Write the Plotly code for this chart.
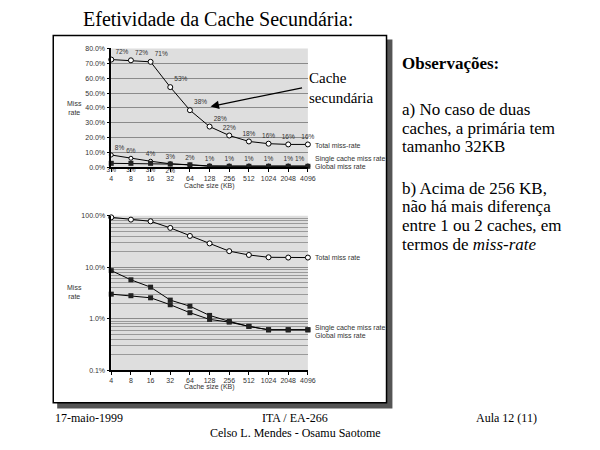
import plotly.graph_objects as go

# ---------------- data ----------------
cache_sizes = ["4", "8", "16", "32", "64", "128", "256", "512", "1024", "2048", "4096"]

top_total = [72.5, 72.0, 71.0, 54.0, 38.5, 27.5, 21.5, 17.5, 16.0, 15.5, 15.5]
top_total_labels = ["72%", "72%", "71%", "53%", "38%", "28%", "22%", "18%", "16%", "16%", "16%"]
top_single = [8.4, 6.2, 4.2, 2.5, 1.6, 1.1, 1.0, 1.0, 1.0, 1.0, 1.0]
top_single_labels = ["8%", "6%", "4%", "3%", "2%", "1%", "1%", "1%", "1%", "1%", "1%"]
top_global = [2.8, 2.8, 2.8, 2.3, 1.8, 0.8, 0.8, 0.8, 0.8, 0.8, 0.8]
top_global_labels = ["3%", "3%", "3%", "2%", "", "", "", "", "", "", ""]

bot_total = [93.0, 84.0, 78.0, 58.0, 40.5, 29.0, 20.5, 17.3, 15.6, 15.4, 15.4]
bot_single = [8.6, 5.7, 4.1, 2.3, 1.75, 1.16, 0.89, 0.71, 0.61, 0.61, 0.61]
bot_global = [3.0, 2.8, 2.55, 1.87, 1.31, 0.97, 0.86, 0.71, 0.61, 0.61, 0.61]

top_yticks = [0, 10, 20, 30, 40, 50, 60, 70, 80]
top_yticktext = ["0.0%", "10.0%", "20.0%", "30.0%", "40.0%", "50.0%", "60.0%", "70.0%", "80.0%"]
bot_yticks = [0.1, 1, 10, 100]
bot_yticktext = ["0.1%", "1.0%", "10.0%", "100.0%"]

title_text = "Efetividade da Cache Secundária:"
obs_title = "Observações:"
obs_lines_a = ["a) No caso de duas", "caches, a primária tem", "tamanho 32KB"]
obs_lines_b = ["b) Acima de 256 KB,", "não há mais diferença", "entre 1 ou 2 caches, em", "termos de <i>miss-rate</i>"]
footer_left = "17-maio-1999"
footer_mid = ["ITA / EA-266", "Celso L. Mendes - Osamu Saotome"]
footer_right = "Aula 12 (11)"

# ---------------- helpers ----------------
# the page body has an 8px margin, so the figure fills the window from (8, 8)
OFF = 8
W, H = 600 - OFF, 450 - OFF
def PX(p):
    return (p - OFF) / W
def PY(p):
    return 1 - (p - OFF) / H

SERIF = "Liberation Serif"
SANS = "Liberation Sans"
small = dict(family=SANS, size=7, color="#333333")
tiny = dict(family=SANS, size=6.5, color="#333333")

fig = go.Figure()

filled_sq = dict(symbol="square", size=5, color="#222222")
line_style = dict(color="black", width=1)
n = len(cache_sizes)
pos_total = ["top right"] * 6 + ["top center"] * (n - 6)
pos_single = ["top right"] + ["top center"] * (n - 2) + ["top left"]

# top chart
fig.add_trace(go.Scatter(x=cache_sizes, y=top_total, mode="lines+markers+text", text=top_total_labels,
                         textposition=pos_total, textfont=tiny, line=line_style,
                         marker=dict(symbol="circle", size=5, color="white", line=dict(width=1, color="black")),
                         cliponaxis=False, xaxis="x", yaxis="y", showlegend=False))
fig.add_trace(go.Scatter(x=cache_sizes, y=top_single, mode="lines+markers+text", text=top_single_labels,
                         textposition=pos_single, textfont=tiny, line=line_style,
                         marker=dict(symbol="circle", size=4, color="white", line=dict(width=1, color="black")),
                         cliponaxis=False, xaxis="x", yaxis="y", showlegend=False))
fig.add_trace(go.Scatter(x=cache_sizes, y=top_global, mode="lines+markers+text", text=top_global_labels,
                         textposition="bottom center", textfont=tiny, line=line_style,
                         marker=filled_sq, cliponaxis=False, xaxis="x", yaxis="y", showlegend=False))

# bottom chart
fig.add_trace(go.Scatter(x=cache_sizes, y=bot_total, mode="lines+markers", line=line_style,
                         marker=dict(symbol="circle", size=5, color="white", line=dict(width=1, color="black")),
                         cliponaxis=False, xaxis="x2", yaxis="y2", showlegend=False))
fig.add_trace(go.Scatter(x=cache_sizes, y=bot_single, mode="lines+markers", line=line_style,
                         marker=filled_sq, cliponaxis=False, xaxis="x2", yaxis="y2", showlegend=False))
fig.add_trace(go.Scatter(x=cache_sizes, y=bot_global, mode="lines+markers", line=line_style,
                         marker=filled_sq, cliponaxis=False, xaxis="x2", yaxis="y2", showlegend=False))

xdom = [PX(111), PX(311)]
xcommon = dict(type="category", domain=xdom, range=[0, 10], showline=True, linecolor="black", linewidth=1.5,
               ticks="outside", ticklen=3, tickcolor="black", tickfont=small, showgrid=False, zeroline=False)
minor_vals = [k * 10 ** e for e in (-1, 0, 1) for k in range(2, 10)]

fig.update_layout(
    width=W, height=H, margin=dict(l=0, r=0, t=0, b=0),
    paper_bgcolor="white", plot_bgcolor="rgba(0,0,0,0)",
    xaxis=dict(anchor="y", **xcommon),
    yaxis=dict(anchor="x", domain=[PY(166), PY(45)], range=[0, 80], tickvals=top_yticks,
               ticktext=top_yticktext, tickfont=small, showline=True, linecolor="black",
               linewidth=1.5, ticks="outside", ticklen=3, tickcolor="black",
               gridcolor="#8a8a8a", gridwidth=1, zeroline=False),
    xaxis2=dict(anchor="y2", **xcommon),
    yaxis2=dict(anchor="x2", type="log", domain=[PY(372), PY(215)], range=[-1, 2],
                tickvals=bot_yticks, ticktext=bot_yticktext, tickfont=small, showline=True,
                linecolor="black", linewidth=1.5, ticks="outside", ticklen=3, tickcolor="black",
                gridcolor="#8a8a8a", gridwidth=1, zeroline=False,
                minor=dict(tickvals=minor_vals, showgrid=True, gridcolor="#9a9a9a", gridwidth=1, ticks="")),
)

shapes = [
    # frame shadow and frame
    dict(type="rect", xref="paper", yref="paper", x0=PX(56), x1=PX(397), y0=PY(411), y1=PY(36),
         fillcolor="#555555", line=dict(width=0), layer="below"),
    dict(type="rect", xref="paper", yref="paper", x0=PX(52), x1=PX(391), y0=PY(405), y1=PY(32),
         fillcolor="white", line=dict(color="black", width=1.5), layer="below"),
    # plot area backgrounds
    dict(type="rect", xref="x domain", yref="y domain", x0=0, x1=1, y0=0, y1=1,
         fillcolor="#dedede", line=dict(width=0), layer="below"),
    dict(type="rect", xref="x2 domain", yref="y2 domain", x0=0, x1=1, y0=0, y1=1,
         fillcolor="#dedede", line=dict(width=0), layer="below"),
]
fig.update_layout(shapes=shapes)

ann = []
def text(x, y, s, font, xanchor="left", yanchor="middle", align="left"):
    ann.append(dict(x=PX(x), y=PY(y), xref="paper", yref="paper", text=s, showarrow=False,
                    font=font, xanchor=xanchor, yanchor=yanchor, align=align))

# title
text(220, 15, title_text, dict(family=SERIF, size=20, color="black"), xanchor="center")
# axis titles
for yy in (106, 292):
    text(74, yy, "Miss<br>rate", dict(family=SANS, size=7, color="#333333"), xanchor="center", align="center")
text(211, 185, "Cache size (KB)", small, xanchor="center")
text(211, 389, "Cache size (KB)", small, xanchor="center")
# series names
text(316, 144, "Total miss-rate", small)
text(316, 157, "Single cache miss rate", small)
text(316, 165, "Global miss rate", small)
text(316, 257, "Total miss rate", small)
text(316, 329, "Single cache miss rate", small)
text(316, 337, "Global miss rate", small)
# annotation
text(310, 85, "Cache<br>secundária", dict(family=SERIF, size=15, color="black"))
ann.append(dict(x=PX(212), y=PY(104), xref="paper", yref="paper", text="", showarrow=True,
                ax=93, ay=-19, arrowhead=2, arrowsize=1.3, arrowwidth=1.3, arrowcolor="black"))
# observations
body = dict(family=SERIF, size=17, color="black")
text(405, 60, "<b>" + obs_title + "</b>", body)
for i, s in enumerate(obs_lines_a):
    text(405, 107 + 19 * i, s, body)
for i, s in enumerate(obs_lines_b):
    text(405, 187 + 19 * i, s, body)
# footer
foot = dict(family=SERIF, size=12, color="black")
text(52, 421, footer_left, foot)
text(298, 421, footer_mid[0], foot, xanchor="center")
text(298, 436, footer_mid[1], foot, xanchor="center")
text(546, 421, footer_right, foot, xanchor="right")

fig.update_layout(annotations=ann)
fig.write_html("out.html")
